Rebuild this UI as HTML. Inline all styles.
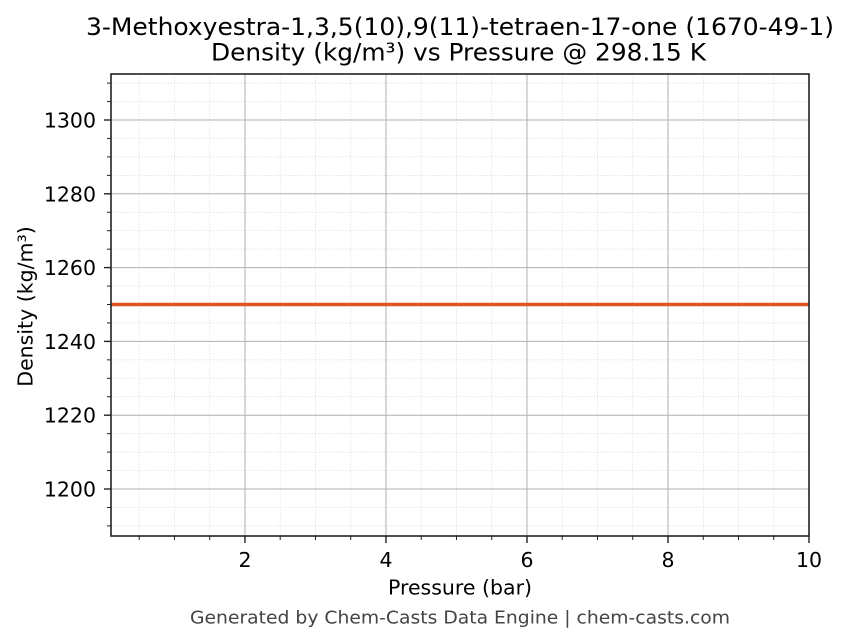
<!DOCTYPE html>
<html><head><meta charset="utf-8"><style>
html,body{margin:0;padding:0;background:#fff;}
svg{display:block;}
text{font-family:"DejaVu Sans","Liberation Sans",sans-serif;fill:#000;}
</style></head><body>
<svg width="849" height="644" viewBox="0 0 849 644" xmlns="http://www.w3.org/2000/svg">
<rect width="849" height="644" fill="#fff"/>
<!-- minor grid -->
<g stroke="#dcdcdc" stroke-width="0.7" stroke-dasharray="1.5,1.5">
<line x1="139.2" y1="74" x2="139.2" y2="536"/><line x1="174.45" y1="74" x2="174.45" y2="536"/><line x1="209.71" y1="74" x2="209.71" y2="536"/>
<line x1="280.21" y1="74" x2="280.21" y2="536"/><line x1="315.46" y1="74" x2="315.46" y2="536"/><line x1="350.72" y1="74" x2="350.72" y2="536"/>
<line x1="421.22" y1="74" x2="421.22" y2="536"/><line x1="456.47" y1="74" x2="456.47" y2="536"/><line x1="491.73" y1="74" x2="491.73" y2="536"/>
<line x1="562.23" y1="74" x2="562.23" y2="536"/><line x1="597.48" y1="74" x2="597.48" y2="536"/><line x1="632.74" y1="74" x2="632.74" y2="536"/>
<line x1="703.24" y1="74" x2="703.24" y2="536"/><line x1="738.49" y1="74" x2="738.49" y2="536"/><line x1="773.75" y1="74" x2="773.75" y2="536"/>
<line x1="111" y1="525.9" x2="809" y2="525.9"/><line x1="111" y1="507.45" x2="809" y2="507.45"/><line x1="111" y1="470.55" x2="809" y2="470.55"/>
<line x1="111" y1="452.1" x2="809" y2="452.1"/><line x1="111" y1="433.65" x2="809" y2="433.65"/><line x1="111" y1="396.75" x2="809" y2="396.75"/>
<line x1="111" y1="378.3" x2="809" y2="378.3"/><line x1="111" y1="359.85" x2="809" y2="359.85"/><line x1="111" y1="322.95" x2="809" y2="322.95"/>
<line x1="111" y1="304.5" x2="809" y2="304.5"/><line x1="111" y1="286.05" x2="809" y2="286.05"/><line x1="111" y1="249.15" x2="809" y2="249.15"/>
<line x1="111" y1="230.7" x2="809" y2="230.7"/><line x1="111" y1="212.25" x2="809" y2="212.25"/><line x1="111" y1="175.35" x2="809" y2="175.35"/>
<line x1="111" y1="156.9" x2="809" y2="156.9"/><line x1="111" y1="138.45" x2="809" y2="138.45"/><line x1="111" y1="101.55" x2="809" y2="101.55"/>
<line x1="111" y1="83.1" x2="809" y2="83.1"/>
</g>
<!-- major grid -->
<g stroke="#b0b0b0" stroke-width="1">
<line x1="244.96" y1="74" x2="244.96" y2="536"/><line x1="385.97" y1="74" x2="385.97" y2="536"/><line x1="526.98" y1="74" x2="526.98" y2="536"/><line x1="667.99" y1="74" x2="667.99" y2="536"/>
<line x1="111" y1="489" x2="809" y2="489"/><line x1="111" y1="415.2" x2="809" y2="415.2"/><line x1="111" y1="341.4" x2="809" y2="341.4"/>
<line x1="111" y1="267.6" x2="809" y2="267.6"/><line x1="111" y1="193.8" x2="809" y2="193.8"/><line x1="111" y1="120" x2="809" y2="120"/>
</g>
<!-- data line -->
<line x1="111" y1="304.5" x2="809" y2="304.5" stroke="#df5420" stroke-width="3.5"/>
<!-- minor ticks -->
<g stroke="#222" stroke-width="1">
<line x1="139.2" y1="536" x2="139.2" y2="540"/><line x1="174.45" y1="536" x2="174.45" y2="540"/><line x1="209.71" y1="536" x2="209.71" y2="540"/>
<line x1="280.21" y1="536" x2="280.21" y2="540"/><line x1="315.46" y1="536" x2="315.46" y2="540"/><line x1="350.72" y1="536" x2="350.72" y2="540"/>
<line x1="421.22" y1="536" x2="421.22" y2="540"/><line x1="456.47" y1="536" x2="456.47" y2="540"/><line x1="491.73" y1="536" x2="491.73" y2="540"/>
<line x1="562.23" y1="536" x2="562.23" y2="540"/><line x1="597.48" y1="536" x2="597.48" y2="540"/><line x1="632.74" y1="536" x2="632.74" y2="540"/>
<line x1="703.24" y1="536" x2="703.24" y2="540"/><line x1="738.49" y1="536" x2="738.49" y2="540"/><line x1="773.75" y1="536" x2="773.75" y2="540"/>
<line x1="107" y1="525.9" x2="111" y2="525.9"/><line x1="107" y1="507.45" x2="111" y2="507.45"/><line x1="107" y1="470.55" x2="111" y2="470.55"/>
<line x1="107" y1="452.1" x2="111" y2="452.1"/><line x1="107" y1="433.65" x2="111" y2="433.65"/><line x1="107" y1="396.75" x2="111" y2="396.75"/>
<line x1="107" y1="378.3" x2="111" y2="378.3"/><line x1="107" y1="359.85" x2="111" y2="359.85"/><line x1="107" y1="322.95" x2="111" y2="322.95"/>
<line x1="107" y1="304.5" x2="111" y2="304.5"/><line x1="107" y1="286.05" x2="111" y2="286.05"/><line x1="107" y1="249.15" x2="111" y2="249.15"/>
<line x1="107" y1="230.7" x2="111" y2="230.7"/><line x1="107" y1="212.25" x2="111" y2="212.25"/><line x1="107" y1="175.35" x2="111" y2="175.35"/>
<line x1="107" y1="156.9" x2="111" y2="156.9"/><line x1="107" y1="138.45" x2="111" y2="138.45"/><line x1="107" y1="101.55" x2="111" y2="101.55"/>
<line x1="107" y1="83.1" x2="111" y2="83.1"/>
</g>
<!-- major ticks -->
<g stroke="#222" stroke-width="1.4">
<line x1="244.96" y1="536" x2="244.96" y2="543"/><line x1="385.97" y1="536" x2="385.97" y2="543"/><line x1="526.98" y1="536" x2="526.98" y2="543"/><line x1="667.99" y1="536" x2="667.99" y2="543"/><line x1="809" y1="536" x2="809" y2="543"/>
<line x1="104" y1="489" x2="111" y2="489"/><line x1="104" y1="415.2" x2="111" y2="415.2"/><line x1="104" y1="341.4" x2="111" y2="341.4"/>
<line x1="104" y1="267.6" x2="111" y2="267.6"/><line x1="104" y1="193.8" x2="111" y2="193.8"/><line x1="104" y1="120" x2="111" y2="120"/>
</g>
<!-- spines -->
<rect x="111" y="74" width="698" height="462" fill="none" stroke="#222" stroke-width="1.6"/>
<!-- tick labels -->
<g font-size="20.5" text-anchor="middle">
<text x="245" y="567">2</text><text x="386" y="567">4</text><text x="527" y="567">6</text><text x="668" y="567">8</text><text x="809" y="567">10</text>
</g>
<g font-size="20.5" text-anchor="end">
<text x="96" y="496.5">1200</text><text x="96" y="422.7">1220</text><text x="96" y="348.9">1240</text>
<text x="96" y="275.1">1260</text><text x="96" y="201.3">1280</text><text x="96" y="127.5">1300</text>
</g>
<!-- axis labels -->
<text x="460" y="594.5" font-size="20.5" text-anchor="middle">Pressure (bar)</text>
<text transform="translate(32.5,306.5) rotate(-90)" font-size="20.5" text-anchor="middle">Density (kg/m³)</text>
<!-- title -->
<text x="86" y="35" font-size="24" textLength="748" lengthAdjust="spacingAndGlyphs">3-Methoxyestra-1,3,5(10),9(11)-tetraen-17-one (1670-49-1)</text>
<text x="211" y="60.5" font-size="24" textLength="495" lengthAdjust="spacingAndGlyphs">Density (kg/m³) vs Pressure @ 298.15 K</text>
<!-- footer -->
<text x="190" y="623.5" font-size="18" fill="#444" style="fill:#444" textLength="540" lengthAdjust="spacingAndGlyphs">Generated by Chem-Casts Data Engine | chem-casts.com</text>
</svg>
</body></html>
